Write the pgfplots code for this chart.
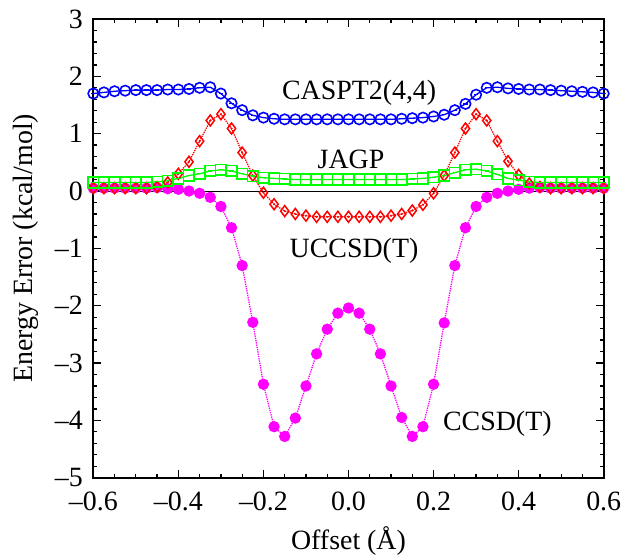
\documentclass[border=0pt]{standalone}
\usepackage{pgfplots}
\pgfplotsset{compat=1.18}
\usepackage{pgfplotstable}
\usepackage{fontspec}
\setmainfont{Liberation Serif}
\definecolor{cblue}{RGB}{0,0,255}
\definecolor{cred}{RGB}{255,0,0}
\definecolor{cgreen}{RGB}{0,255,0}
\definecolor{cmag}{RGB}{255,0,255}

\pgfplotstableread{
x       cas   ucc    jagp  ccsd
-0.600  1.70  0.05  0.15  0.05
-0.575  1.72  0.05  0.15  0.05
-0.550  1.74  0.05  0.15  0.05
-0.525  1.75  0.05  0.15  0.05
-0.500  1.76  0.05  0.15  0.05
-0.475  1.76  0.05  0.15  0.05
-0.450  1.76  0.07  0.16  0.06
-0.425  1.77  0.15  0.18  0.04
-0.400  1.77  0.30  0.22  0.03
-0.375  1.78  0.51  0.27  0.00
-0.350  1.80  0.87  0.30  -0.04
-0.325  1.81  1.23  0.35  -0.11
-0.300  1.70  1.34  0.37  -0.27
-0.275  1.53  1.09  0.35  -0.64
-0.250  1.41  0.67  0.30  -1.30
-0.225  1.32  0.27  0.26  -2.29
-0.200  1.28  -0.03 0.23  -3.37
-0.175  1.26  -0.23 0.22  -4.11
-0.150  1.25  -0.35 0.21  -4.28
-0.125  1.25  -0.40 0.20  -3.96
-0.100  1.25  -0.43 0.20  -3.40
-0.075  1.25  -0.45 0.20  -2.84
-0.050  1.25  -0.45 0.20  -2.41
-0.025  1.25  -0.45 0.20  -2.13
0.000   1.25  -0.45 0.20  -2.04
0.025   1.25  -0.45 0.20  -2.13
0.050   1.25  -0.45 0.20  -2.41
0.075   1.25  -0.45 0.20  -2.84
0.100   1.25  -0.43 0.20  -3.40
0.125   1.26  -0.40 0.20  -3.95
0.150   1.27  -0.34 0.21  -4.28
0.175   1.28  -0.24 0.22  -4.11
0.200   1.30  -0.04 0.24  -3.37
0.225   1.33  0.27  0.27  -2.30
0.250   1.41  0.67  0.32  -1.30
0.275   1.52  1.09  0.37  -0.64
0.300   1.68  1.34  0.38  -0.27
0.325   1.80  1.23  0.35  -0.11
0.350   1.81  0.87  0.29  -0.04
0.375   1.79  0.52  0.22  0.00
0.400   1.78  0.28  0.19  0.03
0.425   1.77  0.13  0.16  0.05
0.450   1.77  0.07  0.15  0.06
0.475   1.76  0.05  0.15  0.05
0.500   1.75  0.05  0.15  0.05
0.525   1.74  0.05  0.15  0.05
0.550   1.73  0.05  0.15  0.05
0.575   1.72  0.05  0.15  0.05
0.600   1.70  0.05  0.15  0.05
}\datatable

\begin{document}
\begin{tikzpicture}
\path[use as bounding box] (-93.3bp,-79.3bp) rectangle (539.7bp,477.7bp);
\begin{axis}[
  at={(0,0)}, anchor=south west,
  width=510.4bp, height=458.7bp, scale only axis,
  xmin=-0.6, xmax=0.6, ymin=-5, ymax=3,
  xtick={-0.6,-0.4,-0.2,0,0.2,0.4,0.6},
  xticklabels={{\textendash}0.6,{\textendash}0.4,{\textendash}0.2,0.0,0.2,0.4,0.6},
  ytick={-5,-4,-3,-2,-1,0,1,2,3},
  yticklabels={{\textendash}5,{\textendash}4,{\textendash}3,{\textendash}2,{\textendash}1,0,1,2,3},
  minor x tick num=3, minor y tick num=4,
  tick align=inside, major tick length=8bp, minor tick length=4bp,
  tick style={line width=1.3bp, black},
  axis line style={line width=1.8bp},
  ticklabel style={font=\fontsize{28}{32}\selectfont},
  label style={font=\fontsize{28}{32}\selectfont},
  xlabel={Offset (Å)}, ylabel={Energy Error (kcal/mol)},
  xlabel style={at={(axis description cs:0.5,-0.1576)}, anchor=base},
  ylabel style={at={(axis description cs:-0.1191,0.5)}, anchor=base},
  xticklabel style={yshift=-11bp},
  yticklabel style={xshift=-7bp},
  clip=false,
]
\addplot[black, line width=0.9bp] coordinates {(-0.6,0) (0.6,0)};
% CCSD(T)
\addplot[cmag, densely dotted, line width=1.3bp, mark=*, mark size=5bp, mark options={solid}] table[x=x,y=ccsd] {\datatable};
% UCCSD(T)
\addplot[cred, densely dotted, line width=1.3bp, mark=diamond, mark size=5.5bp, mark options={solid, fill=white, line width=1.5bp}] table[x=x,y=ucc] {\datatable};
\addplot[cred, only marks, mark=*, mark size=0.8bp] table[x=x,y=ucc] {\datatable};
% JAGP
\addplot[cgreen, line width=1.3bp, mark=square, mark size=5.3bp, mark options={solid, fill=white, line width=1.6bp}] table[x=x,y=jagp] {\datatable};
\addplot[cgreen, only marks, mark=-, mark size=2.2bp, mark options={line width=1.3bp}] table[x=x,y=jagp] {\datatable};
% CASPT2
\addplot[cblue, line width=1.3bp, mark=o, mark size=5.2bp, mark options={solid, fill=white, line width=1.6bp}] table[x=x,y=cas] {\datatable};
\addplot[cblue, only marks, mark=-, mark size=2.2bp, mark options={line width=1.3bp}] table[x=x,y=cas] {\datatable};

\node[font=\fontsize{28}{32}\selectfont, anchor=base] at (axis cs:0.025,1.59) {CASPT2(4,4)};
\node[font=\fontsize{28}{32}\selectfont, anchor=base] at (axis cs:0.006,0.40) {JAGP};
\node[font=\fontsize{28}{32}\selectfont, anchor=base] at (axis cs:0.013,-1.16) {UCCSD(T)};
\node[font=\fontsize{28}{32}\selectfont, anchor=base] at (axis cs:0.350,-4.17) {CCSD(T)};
\end{axis}
\end{tikzpicture}
\end{document}
